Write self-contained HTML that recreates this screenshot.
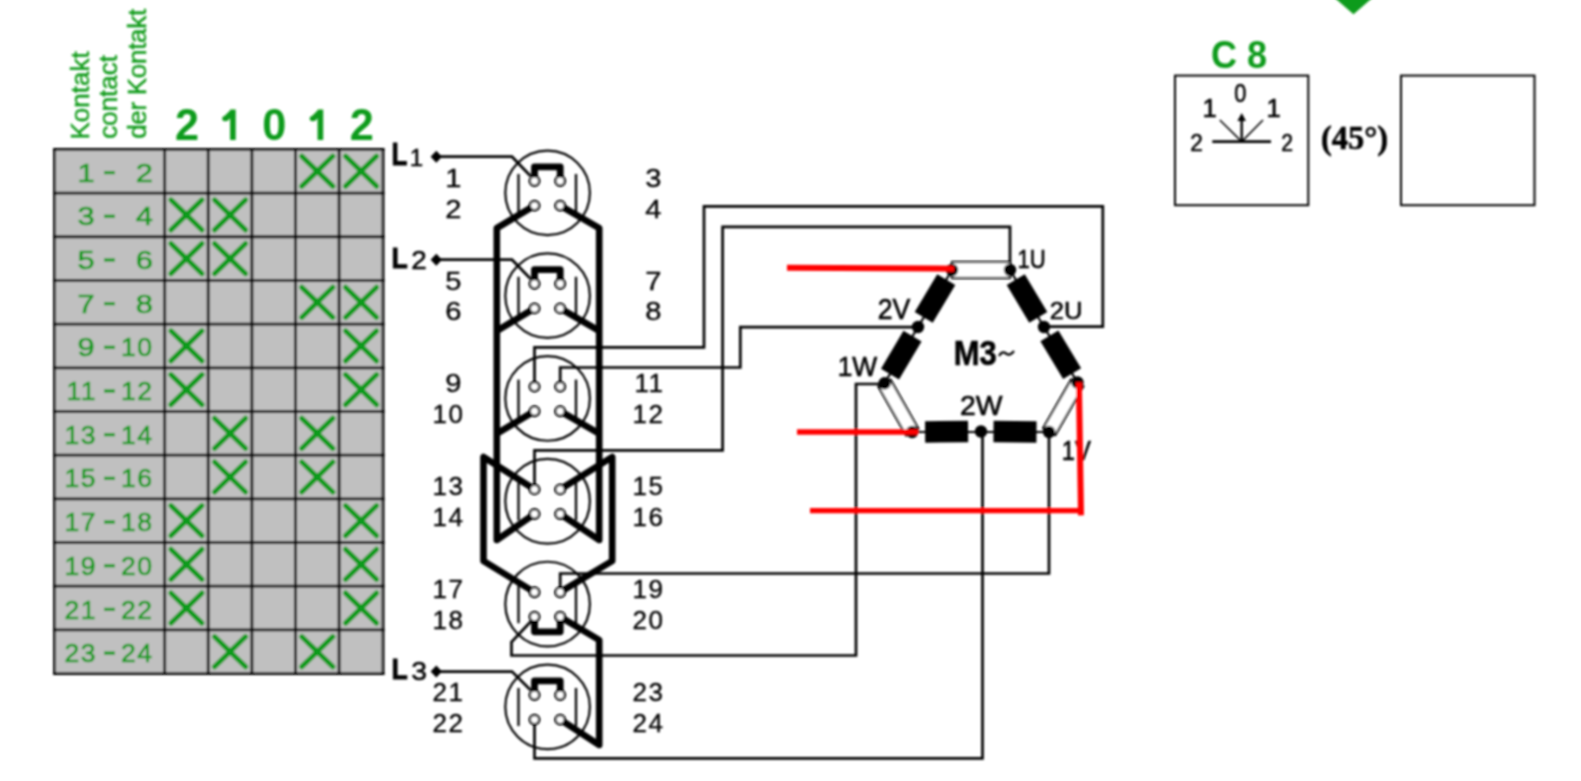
<!DOCTYPE html>
<html><head><meta charset="utf-8"><style>
html,body{margin:0;padding:0;background:#fff;width:1581px;height:781px;overflow:hidden}
svg{display:block;overflow:visible} 
text{font-family:"Liberation Sans",sans-serif}
.tl{font-size:26.5px;fill:#0f9b1a;stroke:#0f9b1a;stroke-width:.7;letter-spacing:1.5px}
.hd{font-size:26px;fill:#0f9b1a;stroke:#0f9b1a;stroke-width:.4}
.hn{font-size:45px;font-weight:bold;fill:#0f9b1a}
.sl{font-size:26px;fill:#000000;stroke:#000000;stroke-width:.35}
.lb{font-size:32px;font-weight:bold;fill:#000000;stroke:#000000;stroke-width:1}
.l1{font-size:25px;fill:#000000;stroke:#000000;stroke-width:.5}
.ml{font-size:26px;fill:#000000;stroke:#000000;stroke-width:.6}
.mb{font-size:34px;font-weight:bold;fill:#000000;stroke:#000000;stroke-width:.6}
.c8{font-size:38px;font-weight:bold;fill:#0f9b1a}
.cs{font-size:26px;fill:#000000;stroke:#000000;stroke-width:.6}
.dg{font-family:"Liberation Serif",serif;font-size:35px;font-weight:bold;fill:#000000;stroke:#000000;stroke-width:.6}
</style></head><body><div class="wrap">
<svg width="1581" height="781" viewBox="0 0 1581 781">
<defs><filter id="bl" x="-2%" y="-5%" width="104%" height="110%"><feGaussianBlur stdDeviation="0.8"/></filter></defs>
<rect x="0" y="0" width="1581" height="781" fill="#fff"/>
<g filter="url(#bl)">
<rect x="54.6" y="149.4" width="328.40" height="524.16" fill="#c0c0c0"/>
<line x1="54.6" y1="148.0" x2="54.6" y2="674.9599999999999" stroke="#000000" stroke-width="2.8"/>
<line x1="164.7" y1="148.0" x2="164.7" y2="674.9599999999999" stroke="#000000" stroke-width="2.8"/>
<line x1="208.2" y1="148.0" x2="208.2" y2="674.9599999999999" stroke="#000000" stroke-width="2.8"/>
<line x1="251.9" y1="148.0" x2="251.9" y2="674.9599999999999" stroke="#000000" stroke-width="2.8"/>
<line x1="295.5" y1="148.0" x2="295.5" y2="674.9599999999999" stroke="#000000" stroke-width="2.8"/>
<line x1="339.1" y1="148.0" x2="339.1" y2="674.9599999999999" stroke="#000000" stroke-width="2.8"/>
<line x1="383.0" y1="148.0" x2="383.0" y2="674.9599999999999" stroke="#000000" stroke-width="2.8"/>
<line x1="53.2" y1="149.40" x2="384.4" y2="149.40" stroke="#000000" stroke-width="2.8"/>
<line x1="53.2" y1="193.08" x2="384.4" y2="193.08" stroke="#000000" stroke-width="2.8"/>
<line x1="53.2" y1="236.76" x2="384.4" y2="236.76" stroke="#000000" stroke-width="2.8"/>
<line x1="53.2" y1="280.44" x2="384.4" y2="280.44" stroke="#000000" stroke-width="2.8"/>
<line x1="53.2" y1="324.12" x2="384.4" y2="324.12" stroke="#000000" stroke-width="2.8"/>
<line x1="53.2" y1="367.80" x2="384.4" y2="367.80" stroke="#000000" stroke-width="2.8"/>
<line x1="53.2" y1="411.48" x2="384.4" y2="411.48" stroke="#000000" stroke-width="2.8"/>
<line x1="53.2" y1="455.16" x2="384.4" y2="455.16" stroke="#000000" stroke-width="2.8"/>
<line x1="53.2" y1="498.84" x2="384.4" y2="498.84" stroke="#000000" stroke-width="2.8"/>
<line x1="53.2" y1="542.52" x2="384.4" y2="542.52" stroke="#000000" stroke-width="2.8"/>
<line x1="53.2" y1="586.20" x2="384.4" y2="586.20" stroke="#000000" stroke-width="2.8"/>
<line x1="53.2" y1="629.88" x2="384.4" y2="629.88" stroke="#000000" stroke-width="2.8"/>
<line x1="53.2" y1="673.56" x2="384.4" y2="673.56" stroke="#000000" stroke-width="2.8"/>
<path d="M301.80 156.24 L332.80 186.24 M332.80 156.24 L301.80 186.24" stroke="#0f9b1a" stroke-width="5.2" stroke-linecap="round" fill="none"/>
<path d="M345.55 156.24 L376.55 186.24 M376.55 156.24 L345.55 186.24" stroke="#0f9b1a" stroke-width="5.2" stroke-linecap="round" fill="none"/>
<path d="M170.95 199.92 L201.95 229.92 M201.95 199.92 L170.95 229.92" stroke="#0f9b1a" stroke-width="5.2" stroke-linecap="round" fill="none"/>
<path d="M214.55 199.92 L245.55 229.92 M245.55 199.92 L214.55 229.92" stroke="#0f9b1a" stroke-width="5.2" stroke-linecap="round" fill="none"/>
<path d="M170.95 243.60 L201.95 273.60 M201.95 243.60 L170.95 273.60" stroke="#0f9b1a" stroke-width="5.2" stroke-linecap="round" fill="none"/>
<path d="M214.55 243.60 L245.55 273.60 M245.55 243.60 L214.55 273.60" stroke="#0f9b1a" stroke-width="5.2" stroke-linecap="round" fill="none"/>
<path d="M301.80 287.28 L332.80 317.28 M332.80 287.28 L301.80 317.28" stroke="#0f9b1a" stroke-width="5.2" stroke-linecap="round" fill="none"/>
<path d="M345.55 287.28 L376.55 317.28 M376.55 287.28 L345.55 317.28" stroke="#0f9b1a" stroke-width="5.2" stroke-linecap="round" fill="none"/>
<path d="M170.95 330.96 L201.95 360.96 M201.95 330.96 L170.95 360.96" stroke="#0f9b1a" stroke-width="5.2" stroke-linecap="round" fill="none"/>
<path d="M345.55 330.96 L376.55 360.96 M376.55 330.96 L345.55 360.96" stroke="#0f9b1a" stroke-width="5.2" stroke-linecap="round" fill="none"/>
<path d="M170.95 374.64 L201.95 404.64 M201.95 374.64 L170.95 404.64" stroke="#0f9b1a" stroke-width="5.2" stroke-linecap="round" fill="none"/>
<path d="M345.55 374.64 L376.55 404.64 M376.55 374.64 L345.55 404.64" stroke="#0f9b1a" stroke-width="5.2" stroke-linecap="round" fill="none"/>
<path d="M214.55 418.32 L245.55 448.32 M245.55 418.32 L214.55 448.32" stroke="#0f9b1a" stroke-width="5.2" stroke-linecap="round" fill="none"/>
<path d="M301.80 418.32 L332.80 448.32 M332.80 418.32 L301.80 448.32" stroke="#0f9b1a" stroke-width="5.2" stroke-linecap="round" fill="none"/>
<path d="M214.55 462.00 L245.55 492.00 M245.55 462.00 L214.55 492.00" stroke="#0f9b1a" stroke-width="5.2" stroke-linecap="round" fill="none"/>
<path d="M301.80 462.00 L332.80 492.00 M332.80 462.00 L301.80 492.00" stroke="#0f9b1a" stroke-width="5.2" stroke-linecap="round" fill="none"/>
<path d="M170.95 505.68 L201.95 535.68 M201.95 505.68 L170.95 535.68" stroke="#0f9b1a" stroke-width="5.2" stroke-linecap="round" fill="none"/>
<path d="M345.55 505.68 L376.55 535.68 M376.55 505.68 L345.55 535.68" stroke="#0f9b1a" stroke-width="5.2" stroke-linecap="round" fill="none"/>
<path d="M170.95 549.36 L201.95 579.36 M201.95 549.36 L170.95 579.36" stroke="#0f9b1a" stroke-width="5.2" stroke-linecap="round" fill="none"/>
<path d="M345.55 549.36 L376.55 579.36 M376.55 549.36 L345.55 579.36" stroke="#0f9b1a" stroke-width="5.2" stroke-linecap="round" fill="none"/>
<path d="M170.95 593.04 L201.95 623.04 M201.95 593.04 L170.95 623.04" stroke="#0f9b1a" stroke-width="5.2" stroke-linecap="round" fill="none"/>
<path d="M345.55 593.04 L376.55 623.04 M376.55 593.04 L345.55 623.04" stroke="#0f9b1a" stroke-width="5.2" stroke-linecap="round" fill="none"/>
<path d="M214.55 636.72 L245.55 666.72 M245.55 636.72 L214.55 666.72" stroke="#0f9b1a" stroke-width="5.2" stroke-linecap="round" fill="none"/>
<path d="M301.80 636.72 L332.80 666.72 M332.80 636.72 L301.80 666.72" stroke="#0f9b1a" stroke-width="5.2" stroke-linecap="round" fill="none"/>
<text transform="translate(96.4 181.70) scale(1.16 1)" text-anchor="end" class="tl">1</text>
<text transform="translate(154.5 181.70) scale(1.16 1)" text-anchor="end" class="tl">2</text>
<rect x="104" y="171.00" width="11" height="3.2" fill="#0f9b1a"/>
<text transform="translate(96.4 225.38) scale(1.16 1)" text-anchor="end" class="tl">3</text>
<text transform="translate(154.5 225.38) scale(1.16 1)" text-anchor="end" class="tl">4</text>
<rect x="104" y="214.68" width="11" height="3.2" fill="#0f9b1a"/>
<text transform="translate(96.4 269.06) scale(1.16 1)" text-anchor="end" class="tl">5</text>
<text transform="translate(154.5 269.06) scale(1.16 1)" text-anchor="end" class="tl">6</text>
<rect x="104" y="258.36" width="11" height="3.2" fill="#0f9b1a"/>
<text transform="translate(96.4 312.74) scale(1.16 1)" text-anchor="end" class="tl">7</text>
<text transform="translate(154.5 312.74) scale(1.16 1)" text-anchor="end" class="tl">8</text>
<rect x="104" y="302.04" width="11" height="3.2" fill="#0f9b1a"/>
<text transform="translate(96.4 356.42) scale(1.16 1)" text-anchor="end" class="tl">9</text>
<text x="153.5" y="356.42" text-anchor="end" class="tl">10</text>
<rect x="104" y="345.72" width="11" height="3.2" fill="#0f9b1a"/>
<text x="97" y="400.10" text-anchor="end" class="tl">11</text>
<text x="153.5" y="400.10" text-anchor="end" class="tl">12</text>
<rect x="104" y="389.40" width="11" height="3.2" fill="#0f9b1a"/>
<text x="97" y="443.78" text-anchor="end" class="tl">13</text>
<text x="153.5" y="443.78" text-anchor="end" class="tl">14</text>
<rect x="104" y="433.08" width="11" height="3.2" fill="#0f9b1a"/>
<text x="97" y="487.46" text-anchor="end" class="tl">15</text>
<text x="153.5" y="487.46" text-anchor="end" class="tl">16</text>
<rect x="104" y="476.76" width="11" height="3.2" fill="#0f9b1a"/>
<text x="97" y="531.14" text-anchor="end" class="tl">17</text>
<text x="153.5" y="531.14" text-anchor="end" class="tl">18</text>
<rect x="104" y="520.44" width="11" height="3.2" fill="#0f9b1a"/>
<text x="97" y="574.82" text-anchor="end" class="tl">19</text>
<text x="153.5" y="574.82" text-anchor="end" class="tl">20</text>
<rect x="104" y="564.12" width="11" height="3.2" fill="#0f9b1a"/>
<text x="97" y="618.50" text-anchor="end" class="tl">21</text>
<text x="153.5" y="618.50" text-anchor="end" class="tl">22</text>
<rect x="104" y="607.80" width="11" height="3.2" fill="#0f9b1a"/>
<text x="97" y="662.18" text-anchor="end" class="tl">23</text>
<text x="153.5" y="662.18" text-anchor="end" class="tl">24</text>
<rect x="104" y="651.48" width="11" height="3.2" fill="#0f9b1a"/>
<text transform="translate(89.1 139.5) rotate(-90)" class="hd">Kontakt</text>
<text transform="translate(117.3 138.8) rotate(-90)" class="hd">contact</text>
<text transform="translate(145.6 138.8) rotate(-90)" class="hd" letter-spacing="-0.3">der Kontakt</text>
<text id="lb_h0" transform="translate(175.10 140.47) scale(0.9595 1.0037)" class="hn">2</text>
<path d="M232.9 109.4 V139.9 M233.0 111.5 L225.2 119.2" stroke="#0f9b1a" stroke-width="5.6" fill="none" stroke-linecap="butt"/>
<circle cx="224.9" cy="118.6" r="2.7" fill="#0f9b1a"/>
<text id="lb_h2" transform="translate(262.21 140.47) scale(0.9612 1.0037)" class="hn">0</text>
<path d="M320.4 109.4 V139.9 M320.5 111.5 L312.7 119.2" stroke="#0f9b1a" stroke-width="5.6" fill="none" stroke-linecap="butt"/>
<circle cx="312.4" cy="118.6" r="2.7" fill="#0f9b1a"/>
<text id="lb_h4" transform="translate(349.66 140.47) scale(0.9620 1.0037)" class="hn">2</text>
<circle cx="547.6" cy="192.85" r="42.3" fill="none" stroke="#000000" stroke-width="2.2"/>
<line x1="518.5" y1="174.00" x2="518.5" y2="212.00" stroke="#000000" stroke-width="2.3"/>
<line x1="576" y1="174.00" x2="576" y2="212.00" stroke="#000000" stroke-width="2.3"/>
<text transform="translate(461.5 186.70) scale(1.12 1)" text-anchor="end" class="sl">1</text>
<text transform="translate(461.5 217.50) scale(1.12 1)" text-anchor="end" class="sl">2</text>
<text transform="translate(661.5 186.70) scale(1.12 1)" text-anchor="end" class="sl">3</text>
<text transform="translate(661.5 217.50) scale(1.12 1)" text-anchor="end" class="sl">4</text>
<circle cx="547.6" cy="295.65" r="42.3" fill="none" stroke="#000000" stroke-width="2.2"/>
<line x1="518.5" y1="276.80" x2="518.5" y2="314.80" stroke="#000000" stroke-width="2.3"/>
<line x1="576" y1="276.80" x2="576" y2="314.80" stroke="#000000" stroke-width="2.3"/>
<text transform="translate(461.5 289.50) scale(1.12 1)" text-anchor="end" class="sl">5</text>
<text transform="translate(461.5 320.30) scale(1.12 1)" text-anchor="end" class="sl">6</text>
<text transform="translate(661.5 289.50) scale(1.12 1)" text-anchor="end" class="sl">7</text>
<text transform="translate(661.5 320.30) scale(1.12 1)" text-anchor="end" class="sl">8</text>
<circle cx="547.6" cy="398.45" r="42.3" fill="none" stroke="#000000" stroke-width="2.2"/>
<line x1="518.5" y1="379.60" x2="518.5" y2="417.60" stroke="#000000" stroke-width="2.3"/>
<line x1="576" y1="379.60" x2="576" y2="417.60" stroke="#000000" stroke-width="2.3"/>
<text transform="translate(461.5 392.30) scale(1.12 1)" text-anchor="end" class="sl">9</text>
<text x="464.5" y="423.10" text-anchor="end" class="sl" letter-spacing="1.5">10</text>
<text x="664.5" y="392.30" text-anchor="end" class="sl" letter-spacing="1.5">11</text>
<text x="664.5" y="423.10" text-anchor="end" class="sl" letter-spacing="1.5">12</text>
<circle cx="547.6" cy="501.25" r="42.3" fill="none" stroke="#000000" stroke-width="2.2"/>
<line x1="518.5" y1="482.40" x2="518.5" y2="520.40" stroke="#000000" stroke-width="2.3"/>
<line x1="576" y1="482.40" x2="576" y2="520.40" stroke="#000000" stroke-width="2.3"/>
<text x="464.5" y="495.10" text-anchor="end" class="sl" letter-spacing="1.5">13</text>
<text x="464.5" y="525.90" text-anchor="end" class="sl" letter-spacing="1.5">14</text>
<text x="664.5" y="495.10" text-anchor="end" class="sl" letter-spacing="1.5">15</text>
<text x="664.5" y="525.90" text-anchor="end" class="sl" letter-spacing="1.5">16</text>
<circle cx="547.6" cy="604.05" r="42.3" fill="none" stroke="#000000" stroke-width="2.2"/>
<line x1="518.5" y1="585.20" x2="518.5" y2="623.20" stroke="#000000" stroke-width="2.3"/>
<line x1="576" y1="585.20" x2="576" y2="623.20" stroke="#000000" stroke-width="2.3"/>
<text x="464.5" y="597.90" text-anchor="end" class="sl" letter-spacing="1.5">17</text>
<text x="464.5" y="628.70" text-anchor="end" class="sl" letter-spacing="1.5">18</text>
<text x="664.5" y="597.90" text-anchor="end" class="sl" letter-spacing="1.5">19</text>
<text x="664.5" y="628.70" text-anchor="end" class="sl" letter-spacing="1.5">20</text>
<circle cx="547.6" cy="706.85" r="42.3" fill="none" stroke="#000000" stroke-width="2.2"/>
<line x1="518.5" y1="688.00" x2="518.5" y2="726.00" stroke="#000000" stroke-width="2.3"/>
<line x1="576" y1="688.00" x2="576" y2="726.00" stroke="#000000" stroke-width="2.3"/>
<text x="464.5" y="700.70" text-anchor="end" class="sl" letter-spacing="1.5">21</text>
<text x="464.5" y="731.50" text-anchor="end" class="sl" letter-spacing="1.5">22</text>
<text x="664.5" y="700.70" text-anchor="end" class="sl" letter-spacing="1.5">23</text>
<text x="664.5" y="731.50" text-anchor="end" class="sl" letter-spacing="1.5">24</text>
<path d="M534.5 178.00 V166.80 H560.2 V178.00" fill="none" stroke="#000000" stroke-width="6.8" stroke-linejoin="round" stroke-linecap="butt"/>
<path d="M534.5 280.80 V269.60 H560.2 V280.80" fill="none" stroke="#000000" stroke-width="6.8" stroke-linejoin="round" stroke-linecap="butt"/>
<path d="M534.5 692.00 V680.80 H560.2 V692.00" fill="none" stroke="#000000" stroke-width="6.8" stroke-linejoin="round" stroke-linecap="butt"/>
<path d="M534.5 619.80 V631.80 H560.2 V619.80" fill="none" stroke="#000000" stroke-width="6.8" stroke-linejoin="round" stroke-linecap="butt"/>
<path d="M534.5 205.60 L496.8 228.10 V540.00 L534.5 514.00" fill="none" stroke="#000000" stroke-width="6.6" stroke-linejoin="round" stroke-linecap="butt"/>
<path d="M560.2 205.60 L599.2 228.10 V540.00 L560.2 514.00" fill="none" stroke="#000000" stroke-width="6.6" stroke-linejoin="round" stroke-linecap="butt"/>
<path d="M534.5 308.40 L496.8 330.90" fill="none" stroke="#000000" stroke-width="6.6" stroke-linejoin="round" stroke-linecap="butt"/>
<path d="M560.2 308.40 L599.2 330.90" fill="none" stroke="#000000" stroke-width="6.6" stroke-linejoin="round" stroke-linecap="butt"/>
<path d="M534.5 411.20 L496.8 433.70" fill="none" stroke="#000000" stroke-width="6.6" stroke-linejoin="round" stroke-linecap="butt"/>
<path d="M560.2 411.20 L599.2 433.70" fill="none" stroke="#000000" stroke-width="6.6" stroke-linejoin="round" stroke-linecap="butt"/>
<path d="M534.5 489.40 L483.5 457.00 V561 L534.5 592.20" fill="none" stroke="#000000" stroke-width="6.6" stroke-linejoin="round" stroke-linecap="butt"/>
<path d="M560.2 489.40 L612.2 457.00 V561 L560.2 592.20" fill="none" stroke="#000000" stroke-width="6.6" stroke-linejoin="round" stroke-linecap="butt"/>
<path d="M560.2 616.80 L599.2 640.00 V745 L560.2 719.60" fill="none" stroke="#000000" stroke-width="6.6" stroke-linejoin="round" stroke-linecap="butt"/>
<path d="M437 156.7 H512 L530.5 176.0" fill="none" stroke="#000000" stroke-width="2.7"/>
<path d="M437 259.7 H512 L530.5 278.8" fill="none" stroke="#000000" stroke-width="2.7"/>
<path d="M437 671.6 H512 L530.5 690.0" fill="none" stroke="#000000" stroke-width="2.7"/>
<path d="M534.5 381.60 V347.4 H704 V206.3 H1102.8 V326.7 H1044" fill="none" stroke="#000000" stroke-width="2.7"/>
<path d="M560.2 381.60 V367.5 H740.3 V327.1 H918" fill="none" stroke="#000000" stroke-width="2.7"/>
<path d="M534.5 484.40 V450.3 H722.6 V226.9 H1010 V270" fill="none" stroke="#000000" stroke-width="2.7"/>
<path d="M560.2 587.20 V573.5 H1049 V432" fill="none" stroke="#000000" stroke-width="2.7"/>
<path d="M531.5 620.80 L511.5 642 V655.5 H856 V384 H884" fill="none" stroke="#000000" stroke-width="2.7"/>
<path d="M534.5 724.60 V758.4 H982.5 V431" fill="none" stroke="#000000" stroke-width="2.7"/>
<circle cx="534.5" cy="181.00" r="4.7" fill="#fff" stroke="#000000" stroke-width="2.5"/>
<circle cx="560.2" cy="181.00" r="4.7" fill="#fff" stroke="#000000" stroke-width="2.5"/>
<circle cx="534.5" cy="205.60" r="4.7" fill="#fff" stroke="#000000" stroke-width="2.5"/>
<circle cx="560.2" cy="205.60" r="4.7" fill="#fff" stroke="#000000" stroke-width="2.5"/>
<circle cx="534.5" cy="283.80" r="4.7" fill="#fff" stroke="#000000" stroke-width="2.5"/>
<circle cx="560.2" cy="283.80" r="4.7" fill="#fff" stroke="#000000" stroke-width="2.5"/>
<circle cx="534.5" cy="308.40" r="4.7" fill="#fff" stroke="#000000" stroke-width="2.5"/>
<circle cx="560.2" cy="308.40" r="4.7" fill="#fff" stroke="#000000" stroke-width="2.5"/>
<circle cx="534.5" cy="386.60" r="4.7" fill="#fff" stroke="#000000" stroke-width="2.5"/>
<circle cx="560.2" cy="386.60" r="4.7" fill="#fff" stroke="#000000" stroke-width="2.5"/>
<circle cx="534.5" cy="411.20" r="4.7" fill="#fff" stroke="#000000" stroke-width="2.5"/>
<circle cx="560.2" cy="411.20" r="4.7" fill="#fff" stroke="#000000" stroke-width="2.5"/>
<circle cx="534.5" cy="489.40" r="4.7" fill="#fff" stroke="#000000" stroke-width="2.5"/>
<circle cx="560.2" cy="489.40" r="4.7" fill="#fff" stroke="#000000" stroke-width="2.5"/>
<circle cx="534.5" cy="514.00" r="4.7" fill="#fff" stroke="#000000" stroke-width="2.5"/>
<circle cx="560.2" cy="514.00" r="4.7" fill="#fff" stroke="#000000" stroke-width="2.5"/>
<circle cx="534.5" cy="592.20" r="4.7" fill="#fff" stroke="#000000" stroke-width="2.5"/>
<circle cx="560.2" cy="592.20" r="4.7" fill="#fff" stroke="#000000" stroke-width="2.5"/>
<circle cx="534.5" cy="616.80" r="4.7" fill="#fff" stroke="#000000" stroke-width="2.5"/>
<circle cx="560.2" cy="616.80" r="4.7" fill="#fff" stroke="#000000" stroke-width="2.5"/>
<circle cx="534.5" cy="695.00" r="4.7" fill="#fff" stroke="#000000" stroke-width="2.5"/>
<circle cx="560.2" cy="695.00" r="4.7" fill="#fff" stroke="#000000" stroke-width="2.5"/>
<circle cx="534.5" cy="719.60" r="4.7" fill="#fff" stroke="#000000" stroke-width="2.5"/>
<circle cx="560.2" cy="719.60" r="4.7" fill="#fff" stroke="#000000" stroke-width="2.5"/>
<text id="lb_L1" transform="translate(391.57 165.47) scale(0.8110 0.9505)" class="lb">L</text>
<text id="lb_S1" transform="translate(409.83 166.30) scale(0.9646 0.9646)" class="l1">1</text>
<path d="M436.3 150.7 L442 156.7 L436.3 162.7 L430.6 156.7 Z" fill="#000000"/>
<text id="lb_L2" transform="translate(391.47 268.37) scale(0.8295 0.9505)" class="lb">L</text>
<text id="lb_S2" transform="translate(411.30 268.92) scale(1.1142 1.0114)" class="l1">2</text>
<path d="M436.3 253.7 L442 259.7 L436.3 265.7 L430.6 259.7 Z" fill="#000000"/>
<text id="lb_L3" transform="translate(391.51 679.46) scale(0.8297 0.9505)" class="lb">L</text>
<text id="lb_S3" transform="translate(411.24 680.01) scale(1.1342 1.0539)" class="l1">3</text>
<path d="M436.3 665.6 L442 671.6 L436.3 677.6 L430.6 671.6 Z" fill="#000000"/>
<path d="M952 270 L1010 270 L1044 327 L1077.5 382.5 L1049 432 L912.2 432 L884.5 383.3 L918 327 Z" fill="none" stroke="#000000" stroke-width="2.2"/>
<rect x="-29.00" y="-8.00" width="58.00" height="16.00" fill="#fff" stroke="#000000" stroke-width="2.2" transform="translate(981.00 270.00) rotate(0.00)"/>
<rect x="-22.00" y="-10.50" width="44.00" height="21.00" fill="#000000" transform="translate(1027.00 298.50) rotate(59.18)"/>
<rect x="-22.00" y="-10.50" width="44.00" height="21.00" fill="#000000" transform="translate(1060.75 354.75) rotate(58.88)"/>
<rect x="-28.00" y="-7.00" width="56.00" height="14.00" fill="#fff" stroke="#000000" stroke-width="2.2" transform="translate(1063.25 407.25) rotate(119.93)"/>
<rect x="-21.50" y="-10.75" width="43.00" height="21.50" fill="#000000" transform="translate(946.60 431.75) rotate(-0.42)"/>
<rect x="-21.50" y="-10.75" width="43.00" height="21.50" fill="#000000" transform="translate(1015.00 431.75) rotate(0.42)"/>
<rect x="-28.00" y="-7.00" width="56.00" height="14.00" fill="#fff" stroke="#000000" stroke-width="2.2" transform="translate(898.35 407.65) rotate(60.37)"/>
<rect x="-22.00" y="-10.50" width="44.00" height="21.00" fill="#000000" transform="translate(901.25 355.15) rotate(-59.25)"/>
<rect x="-22.00" y="-10.50" width="44.00" height="21.00" fill="#000000" transform="translate(935.00 298.50) rotate(-59.18)"/>
<circle cx="952.0" cy="270.0" r="6.2" fill="#000000"/>
<circle cx="1010.0" cy="270.0" r="6.2" fill="#000000"/>
<circle cx="1044.0" cy="327.0" r="6.2" fill="#000000"/>
<circle cx="1077.5" cy="382.5" r="6.2" fill="#000000"/>
<circle cx="1049.0" cy="432.0" r="6.2" fill="#000000"/>
<circle cx="981.0" cy="431.5" r="6.2" fill="#000000"/>
<circle cx="912.2" cy="432.0" r="6.2" fill="#000000"/>
<circle cx="884.5" cy="383.3" r="6.2" fill="#000000"/>
<circle cx="918.0" cy="327.0" r="6.2" fill="#000000"/>
<text id="lb_1U" transform="translate(1017.48 268.30) scale(0.8501 0.9625)" class="ml">1U</text>
<text id="lb_2U" transform="translate(1049.65 319.43) scale(0.9844 0.9529)" class="ml">2U</text>
<text id="lb_2V" transform="translate(877.65 319.21) scale(1.0237 1.1049)" class="ml">2V</text>
<text id="lb_1W" transform="translate(837.68 375.71) scale(1.0136 1.0328)" class="ml">1W</text>
<text id="lb_2W" transform="translate(960.09 415.00) scale(1.0895 1.0777)" class="ml">2W</text>
<text id="lb_1V" transform="translate(1061.73 459.55) scale(0.9158 1.0935)" class="ml">1V</text>
<text id="lb_M3" transform="translate(953.72 364.70) scale(0.9121 1.0220)" class="mb">M3</text>
<path d="M999 356 Q1002 350.5 1006 353.5 Q1010 356.5 1014 351" stroke="#000000" stroke-width="2.2" fill="none"/>
<path d="M787 267.7 L954 268.7" stroke="#ff0000" stroke-width="6" fill="none"/>
<path d="M797 431.9 L918 431.9" stroke="#ff0000" stroke-width="5.5" fill="none"/>
<path d="M1078.9 382.3 L1081 515.4" stroke="#ff0000" stroke-width="6" fill="none"/>
<path d="M810 510.6 L1081 510.6" stroke="#ff0000" stroke-width="5.2" fill="none"/>
<polygon points="1314,-20 1393,-20 1353.5,14.3" fill="#0f9b1a"/>
<text id="lb_C8" transform="translate(1211.00 67.52) scale(0.9480 1.0401)" class="c8">C 8</text>
<rect x="1175" y="75.6" width="133.3" height="129.6" fill="none" stroke="#000000" stroke-width="2"/>
<rect x="1401" y="75.6" width="133.5" height="129.6" fill="none" stroke="#000000" stroke-width="2"/>
<line x1="1212.3" y1="141.6" x2="1271" y2="141.6" stroke="#000000" stroke-width="2.6"/>
<line x1="1241.7" y1="141.6" x2="1241.7" y2="117" stroke="#000000" stroke-width="2.4"/>
<path d="M1241.7 113 L1246 121 L1237.4 121 Z" fill="#000000"/>
<path d="M1219.8 120 L1241.7 141.6 L1263 120" stroke="#000000" stroke-width="1.6" fill="none"/>
<text id="lb_c0" transform="translate(1234.36 102.10) scale(0.8361 1.0044)" class="cs">0</text>
<text id="lb_c1L" transform="translate(1202.55 117.40) scale(0.9878 0.9878)" class="cs">1</text>
<text id="lb_c1R" transform="translate(1266.42 117.40) scale(0.9878 0.9878)" class="cs">1</text>
<text id="lb_c2L" transform="translate(1190.16 150.53) scale(0.8706 0.9542)" class="cs">2</text>
<text id="lb_c2R" transform="translate(1281.16 150.53) scale(0.8152 0.9542)" class="cs">2</text>
<text id="lb_c45" transform="translate(1320.96 149.44) scale(0.9284 0.9566)" class="dg">(45°)</text>
</g>
</svg></div>
</body></html>
